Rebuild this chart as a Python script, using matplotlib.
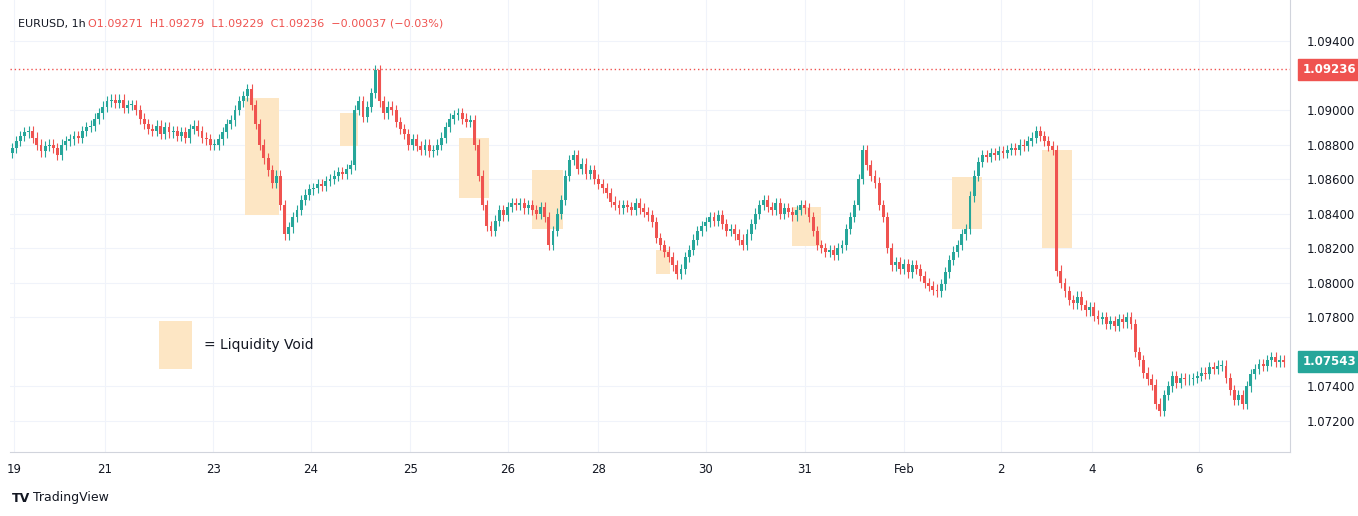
import matplotlib
matplotlib.use('Agg')
import matplotlib.pyplot as plt
from matplotlib.patches import Rectangle

# hourly closes, in 1e-4 units (10878 -> 1.0878)
closes = [
    10878, 10882, 10885, 10887, 10888, 10884, 10880, 10876, 10879, 10880,
    10878, 10874, 10880, 10882, 10883, 10885, 10884, 10888, 10890, 10891,
    10895, 10898, 10902, 10905, 10906, 10904, 10906, 10901, 10903, 10903,
    10900, 10895, 10892, 10889, 10888, 10891, 10886, 10890, 10887, 10888,
    10885, 10887, 10884, 10889, 10891, 10888, 10884, 10883, 10880, 10880,
    10883, 10887, 10892, 10894, 10900, 10905, 10908, 10912,
    10903, 10892, 10880, 10872, 10865, 10858, 10862, 10845, 10828,
    10832, 10838, 10842, 10848, 10851, 10854, 10855, 10857, 10856, 10859, 10860,
    10862, 10864, 10863, 10866, 10868, 10900,
    10905, 10896, 10902, 10910, 10923, 10905, 10898, 10902, 10900,
    10893, 10889, 10886, 10880, 10883, 10879, 10877, 10880, 10876, 10877,
    10880, 10884, 10890, 10895, 10897, 10898, 10895, 10893, 10894,
    10880, 10862, 10845, 10833,
    10830, 10836, 10842, 10839, 10844, 10846, 10845,
    10846, 10843, 10845, 10842, 10840, 10844, 10838, 10822,
    10830, 10840, 10848, 10862, 10871,
    10874, 10866, 10869, 10863, 10865, 10860, 10857, 10855, 10852, 10847, 10845,
    10843, 10845, 10844, 10842, 10846, 10843, 10841, 10839,
    10835, 10826, 10822, 10818, 10815, 10810, 10805,
    10808, 10815, 10819, 10825, 10830, 10833,
    10835, 10838, 10836, 10839, 10834, 10830, 10831,
    10828, 10825, 10822, 10828, 10834, 10840, 10845,
    10848, 10844, 10842, 10846, 10840, 10843, 10841, 10839,
    10842, 10845, 10843, 10838, 10830, 10822,
    10820, 10818, 10819, 10816, 10820, 10822, 10831,
    10838, 10845, 10860, 10877,
    10868, 10862, 10858, 10845, 10838, 10820, 10810,
    10812, 10808, 10811, 10806, 10810, 10808, 10804, 10800, 10798, 10796,
    10795, 10799, 10806, 10813, 10818, 10822, 10828, 10831,
    10850, 10862, 10870, 10874,
    10873, 10875, 10874, 10876, 10875, 10877, 10878, 10877, 10880, 10879, 10882, 10884, 10888,
    10885, 10882, 10879, 10877,
    10807, 10800, 10795, 10790, 10788, 10792, 10787,
    10784, 10786, 10781, 10779, 10780, 10776, 10778, 10775, 10779, 10777, 10780, 10776,
    10760, 10755, 10748, 10744, 10741, 10730, 10726,
    10735, 10740, 10746, 10742, 10745, 10744, 10744,
    10745, 10746, 10748, 10747, 10751, 10750, 10752, 10752,
    10745, 10738, 10732, 10735, 10730, 10740, 10747,
    10750, 10753, 10752, 10755, 10757, 10754, 10755, 10754,
]
first_open = 10875
wick = 3

date_labels = ['19', '21', '23', '24', '25', '26', '28', '30', '31', 'Feb', '2', '4', '6']
date_idx = [0.5, 22.5, 48.7, 72.4, 96.4, 120, 142, 168, 192, 216, 239.5, 261.5, 287.4]

price_ticks = [1.072, 1.074, 1.078, 1.080, 1.082, 1.084, 1.086, 1.088, 1.090, 1.094]

# liquidity voids: (idx start, idx end, low, high)
voids = [(56.4, 64.6, 10839, 10907), (79.4, 83.8, 10879, 10898),
         (108.2, 115.5, 10849, 10884), (126, 133.4, 10831, 10865),
         (156, 159.3, 10805, 10819), (188.9, 196, 10821, 10844),
         (227.6, 234.9, 10831, 10861), (249.4, 256.7, 10820, 10877)]
legend_box = (35.6, 43.6, 10750, 10778)

UP, DN = '#26a69a', '#ef5350'
VOID = '#fde6c4'

fig = plt.figure(figsize=(13.58, 5.16), dpi=100)
ax = fig.add_axes([10 / 1358, 1 - 452 / 516, 1280 / 1358, 452 / 516])

for x0, x1, lo, hi in voids + [legend_box]:
    ax.add_patch(Rectangle((x0, lo / 1e4), x1 - x0, (hi - lo) / 1e4,
                           color=VOID, lw=0, zorder=1))

prev = first_open
for i, c in enumerate(closes):
    o = prev
    col = UP if c >= o else DN
    hi, lo = max(o, c) + wick, min(o, c) - wick
    ax.vlines(i, lo / 1e4, hi / 1e4, color=col, lw=0.8, zorder=2)
    body = max(abs(c - o), 0.4)
    ax.add_patch(Rectangle((i - 0.35, min(o, c) / 1e4), 0.7, body / 1e4,
                           color=col, lw=0, zorder=3))
    prev = c

ax.axhline(1.09236, color=DN, ls=(0, (1, 2)), lw=1.0)
ax.text(43.6 + 3, 1.07638, '= Liquidity Void', fontsize=10, va='center', color='#131722')

ax.set_xlim(-0.5, 309.5)
ax.set_ylim(1.07020, 1.09637)
ax.set_yticks(price_ticks)
ax.set_yticklabels([f'{v:.5f}' for v in price_ticks], fontsize=8.5, color='#131722')
ax.yaxis.tick_right()
ax.set_xticks(date_idx)
ax.set_xticklabels(date_labels, fontsize=8.5, color='#131722')
ax.tick_params(length=0, pad=8)
ax.tick_params(axis='y', pad=12)
ax.grid(color='#f0f3fa', lw=0.8)
ax.set_axisbelow(True)
for s in ax.spines.values():
    s.set_color('#d1d4dc')
    s.set_linewidth(0.8)
ax.spines['left'].set_visible(False)
ax.spines['top'].set_visible(False)

for val, col in [(1.09236, DN), (1.07543, UP)]:
    ax.annotate(f'{val:.5f}', xy=(1.0, val), xycoords=('axes fraction', 'data'),
                xytext=(9, 0), textcoords='offset points', va='center',
                fontsize=8.5, color='white', fontweight='bold',
                bbox=dict(boxstyle='square,pad=0.35', fc=col, ec=col))

fig.text(18 / 1358, 1 - 24 / 516, 'EURUSD, 1h', fontsize=8, color='#131722', va='center')
fig.text(88 / 1358, 1 - 24 / 516,
         'O1.09271  H1.09279  L1.09229  C1.09236  −0.00037 (−0.03%)',
         fontsize=8, color=DN, va='center')
fig.text(12 / 1358, 1 - 498 / 516, 'TV', fontsize=9, color='#131722', va='center',
         fontweight='bold')
fig.text(33 / 1358, 1 - 498 / 516, 'TradingView', fontsize=9, color='#131722', va='center')

plt.savefig('out.png', dpi=100)
